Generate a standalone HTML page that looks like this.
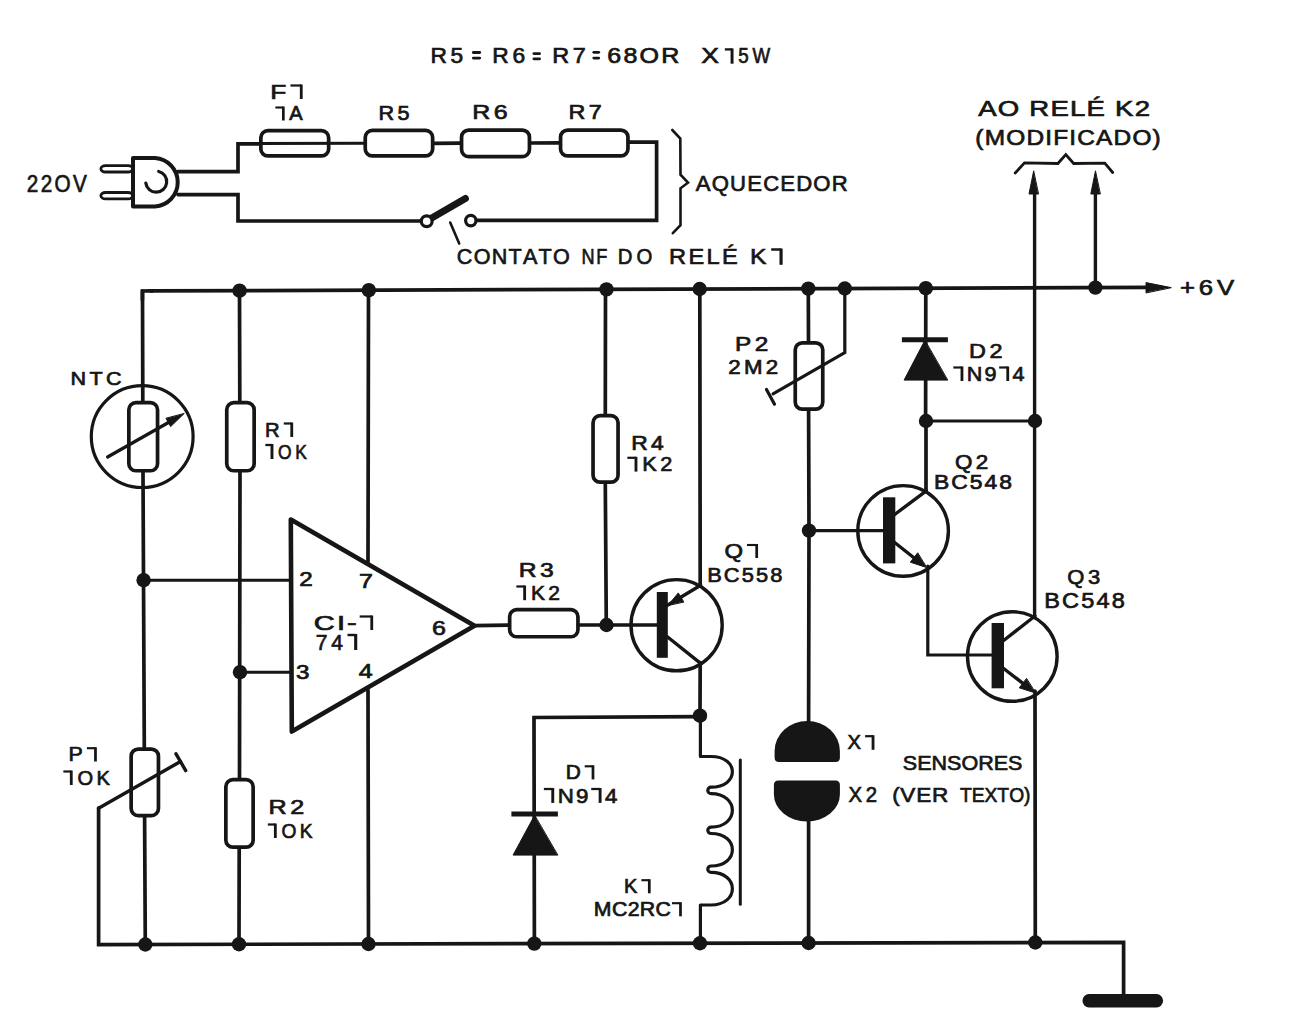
<!DOCTYPE html>
<html><head><meta charset="utf-8"><style>
html,body{margin:0;padding:0;background:#fff;}
body{width:1293px;height:1016px;overflow:hidden;}
svg{display:block;}
</style></head><body>
<svg width="1293" height="1016" viewBox="0 0 1293 1016">
<rect width="1293" height="1016" fill="#fff"/>
<g stroke="#161616" fill="none" stroke-linejoin="round" stroke-linecap="round">
<rect x="100.9" y="165.6" width="31.7" height="6.4" rx="4.5" fill="#fff" stroke-width="2.8"/>
<rect x="100.9" y="192.5" width="31.7" height="6.4" rx="4.5" fill="#fff" stroke-width="2.8"/>
<path d="M133,158 L155,158 A24.3,24.3 0 0 1 155,206.5 L133,206.5 Z" stroke-width="4" fill="#fff" />
<path d="M145.8,183 A10.5,10.5 0 1 0 158.7,171.5" stroke-width="3.2" fill="none" />
<polyline points="178,171.6 238,171.6 238,143.8 259,143.8" stroke-width="3.7" fill="none" stroke-linejoin="miter"/>
<polyline points="178,194.6 238,194.6 238,221 421,221" stroke-width="3.7" fill="none" stroke-linejoin="miter"/>
<rect x="260.85" y="130.65" width="67.8" height="25.3" rx="7" fill="#fff" stroke-width="3.7"/>
<line x1="255" y1="143.6" x2="366" y2="143.3" stroke-width="3" stroke-linecap="round"/>
<rect x="365.25" y="130.45" width="67.4" height="25.5" rx="7" fill="#fff" stroke-width="3.7"/>
<line x1="434" y1="143.3" x2="460" y2="143.1" stroke-width="3.7" stroke-linecap="round"/>
<rect x="461.55" y="130.05" width="67.9" height="26.5" rx="7" fill="#fff" stroke-width="3.7"/>
<line x1="531" y1="143" x2="559" y2="142.8" stroke-width="3.7" stroke-linecap="round"/>
<rect x="560.55" y="130.05" width="67.4" height="25.9" rx="7" fill="#fff" stroke-width="3.7"/>
<polyline points="629.5,142.2 656.6,142.2 656.6,220.4 476.5,220.4" stroke-width="3.7" fill="none" stroke-linejoin="miter"/>
<line x1="431.3" y1="218.3" x2="465.4" y2="198.5" stroke-width="7" stroke-linecap="round"/>
<circle cx="426.7" cy="221.3" r="5.4" stroke-width="3.2" fill="#fff"/>
<circle cx="470.8" cy="220.6" r="5.2" stroke-width="3.2" fill="#fff"/>
<line x1="450.2" y1="222.5" x2="459.2" y2="243.5" stroke-width="2.6" stroke-linecap="round"/>
<polyline points="672.3,130 680.3,138.5 680.5,174.7 688,182.7 680.5,188.3 680.5,225.2 672.8,233.2" stroke-width="2.6" fill="none" stroke-linejoin="miter"/>
<line x1="150" y1="290.97" x2="1150" y2="287.4" stroke-width="3.7" stroke-linecap="butt"/>
<polyline points="142.4,300 142.4,291 152,290.96" stroke-width="3.7" fill="none" stroke-linejoin="miter"/>
<polygon points="1171,287.6 1146,282.6 1146,292.6" fill="#161616" stroke-width="1"/>
<polyline points="98.6,808 98.6,944.6 1123.6,942.3 1123.6,995" stroke-width="3.7" fill="none" stroke-linejoin="miter"/>
<rect x="1082.5" y="994" width="80.5" height="13.5" rx="6.5" fill="#161616" stroke="none"/>
<line x1="142.5" y1="291" x2="142.8" y2="401" stroke-width="3.7" stroke-linecap="round"/>
<circle cx="142.2" cy="436.6" r="50.9" stroke-width="3.2" fill="none"/>
<rect x="128.85" y="402.65" width="28.7" height="68.1" rx="7" fill="#fff" stroke-width="3.7"/>
<line x1="143" y1="472.5" x2="144.3" y2="747" stroke-width="3.7" stroke-linecap="round"/>
<rect x="131.15" y="749.05" width="27.3" height="66.5" rx="7" fill="#fff" stroke-width="3.7"/>
<line x1="144.6" y1="817" x2="145.3" y2="944.49" stroke-width="3.7" stroke-linecap="round"/>
<line x1="107.6" y1="457" x2="172" y2="420.5" stroke-width="3.2" stroke-linecap="round"/>
<polygon points="184,413.7 170.61,426.58 166.07,418.57" fill="#161616" stroke-width="1"/>
<circle cx="143.6" cy="580.2" r="7.2" fill="#161616" stroke="none"/>
<line x1="143.6" y1="580.2" x2="290" y2="580.2" stroke-width="3" stroke-linecap="round"/>
<line x1="98.6" y1="808.2" x2="180.5" y2="761.5" stroke-width="3.4" stroke-linecap="round"/>
<line x1="176" y1="753.8" x2="185.7" y2="770.6" stroke-width="3.4" stroke-linecap="round"/>
<line x1="239.5" y1="290.65" x2="239.8" y2="401" stroke-width="3.7" stroke-linecap="round"/>
<rect x="226.75" y="402.65" width="27.4" height="68.1" rx="7" fill="#fff" stroke-width="3.7"/>
<line x1="240" y1="472.5" x2="239.5" y2="778" stroke-width="3.7" stroke-linecap="round"/>
<rect x="225.85" y="779.65" width="27.3" height="67.5" rx="7" fill="#fff" stroke-width="3.7"/>
<line x1="239.2" y1="849" x2="239" y2="944.28" stroke-width="3.7" stroke-linecap="round"/>
<circle cx="240" cy="672.2" r="7.2" fill="#161616" stroke="none"/>
<line x1="240" y1="672.2" x2="290" y2="672.2" stroke-width="3" stroke-linecap="round"/>
<line x1="368.5" y1="290.19" x2="368" y2="562" stroke-width="3.7" stroke-linecap="round"/>
<line x1="368" y1="690" x2="368.5" y2="943.99" stroke-width="3.7" stroke-linecap="round"/>
<polygon points="290.8,519.5 474.5,625.8 291.8,731.5" fill="none" stroke-width="4.6"/>
<line x1="474" y1="625.6" x2="508" y2="625.2" stroke-width="3.7" stroke-linecap="round"/>
<rect x="509.65" y="609.65" width="68.3" height="27.1" rx="7" fill="#fff" stroke-width="3.7"/>
<line x1="579.5" y1="625" x2="657" y2="625" stroke-width="3.7" stroke-linecap="round"/>
<circle cx="606.5" cy="625" r="7.2" fill="#161616" stroke="none"/>
<line x1="605.5" y1="289.35" x2="605.3" y2="414" stroke-width="3.7" stroke-linecap="round"/>
<rect x="593.05" y="415.65" width="25" height="66.5" rx="7" fill="#fff" stroke-width="3.7"/>
<line x1="605.3" y1="484" x2="606.3" y2="625" stroke-width="3.7" stroke-linecap="round"/>
<circle cx="676.6" cy="625.2" r="45.6" stroke-width="3.4" fill="none"/>
<rect x="656.8" y="592" width="11" height="65.8" fill="#161616" stroke="none"/>
<line x1="667" y1="605.5" x2="700.7" y2="585.2" stroke-width="3.4" stroke-linecap="round"/>
<polygon points="668.2,605.2 678.25,592.91 683.7,601.77" fill="#161616" stroke-width="1"/>
<line x1="700.2" y1="585.5" x2="699.8" y2="289.01" stroke-width="3.7" stroke-linecap="round"/>
<line x1="667" y1="636.5" x2="700.3" y2="663.1" stroke-width="3.4" stroke-linecap="round"/>
<line x1="700.2" y1="662.5" x2="700" y2="716" stroke-width="3.7" stroke-linecap="round"/>
<circle cx="700" cy="715.7" r="7.2" fill="#161616" stroke="none"/>
<polyline points="700,716.6 534,717.5 534.4,943.62" stroke-width="3.7" fill="none" stroke-linejoin="miter"/>
<polygon points="534.5,815.5 513.1,855.1 557.5,855.1" fill="#161616" stroke-width="1"/>
<line x1="511.4" y1="814.1" x2="557.9" y2="814.1" stroke-width="5" stroke-linecap="butt"/>
<path d="M700.4,716 L700.4,756.5 L711,756.5 C739.5,756.5 739.5,787.2 711,787.2 A3.2,3.2 0 0 0 711,793.6 C739.5,793.6 739.5,827.1 711,827.1 A3.2,3.2 0 0 0 711,833.5 C739.5,833.5 739.5,866 711,866 A3.2,3.2 0 0 0 711,872.4 C739.5,872.4 739.5,905 711,905 L700.4,905 L700.4,943.25" stroke-width="3.2" fill="none" />
<line x1="740.3" y1="760" x2="740.3" y2="904.3" stroke-width="3" stroke-linecap="round"/>
<circle cx="534.3" cy="943.62" r="7.2" fill="#161616" stroke="none"/>
<circle cx="700" cy="943.25" r="7.2" fill="#161616" stroke="none"/>
<line x1="808.3" y1="288.62" x2="808.5" y2="341" stroke-width="3.7" stroke-linecap="round"/>
<rect x="795.25" y="342.85" width="27.5" height="66.3" rx="7" fill="#fff" stroke-width="3.7"/>
<line x1="808.6" y1="411" x2="809" y2="530.6" stroke-width="3.7" stroke-linecap="round"/>
<line x1="809" y1="530.6" x2="808.6" y2="722" stroke-width="3.7" stroke-linecap="round"/>
<line x1="808.6" y1="820" x2="808.6" y2="943.01" stroke-width="3.7" stroke-linecap="round"/>
<polyline points="844.8,288.49 844.8,352.6 773,393.8" stroke-width="3.2" fill="none" stroke-linejoin="miter"/>
<line x1="766.5" y1="389.4" x2="774.5" y2="404.2" stroke-width="3.2" stroke-linecap="round"/>
<circle cx="809" cy="530.6" r="7.2" fill="#161616" stroke="none"/>
<line x1="809" y1="530.6" x2="884" y2="530.6" stroke-width="3.2" stroke-linecap="round"/>
<path d="M774.6,757.5 L774.6,751 A32.6,30 0 0 1 839.9,751 L839.9,757.5 Q839.9,762 835.4,762 L779.1,762 Q774.6,762 774.6,757.5 Z" fill="#161616" stroke="none"/>
<path d="M773.9,785 Q773.9,780.5 778.4,780.5 L835.4,780.5 Q839.9,780.5 839.9,785 L839.9,794.5 A33,27 0 0 1 773.9,794.5 Z" fill="#161616" stroke="none"/>
<line x1="925.8" y1="288.2" x2="925.6" y2="421" stroke-width="3.7" stroke-linecap="round"/>
<polygon points="924.8,340.5 904.1,380.1 947.4,380.1" fill="#161616" stroke-width="1"/>
<line x1="901.9" y1="339.8" x2="947.9" y2="339.8" stroke-width="5" stroke-linecap="butt"/>
<circle cx="926" cy="421" r="7.2" fill="#161616" stroke="none"/>
<line x1="926" y1="421" x2="1035" y2="421" stroke-width="3.2" stroke-linecap="round"/>
<circle cx="1035" cy="421" r="7.2" fill="#161616" stroke="none"/>
<circle cx="903.1" cy="530.9" r="45.3" stroke-width="3.4" fill="none"/>
<rect x="883" y="497.3" width="12.3" height="66.1" fill="#161616" stroke="none"/>
<line x1="894" y1="515" x2="926.3" y2="490.8" stroke-width="3.4" stroke-linecap="round"/>
<line x1="926" y1="491" x2="926" y2="421" stroke-width="3.7" stroke-linecap="round"/>
<line x1="894" y1="542" x2="918" y2="561" stroke-width="3.4" stroke-linecap="round"/>
<polygon points="926.5,567.5 910.33,562.19 917.49,553.06" fill="#161616" stroke-width="1"/>
<polyline points="927.8,566 927.8,655 993,655" stroke-width="3.2" fill="none" stroke-linejoin="miter"/>
<circle cx="1012.3" cy="656.5" r="44.8" stroke-width="3.4" fill="none"/>
<rect x="991.6" y="623" width="12.4" height="65.3" fill="#161616" stroke="none"/>
<line x1="1003" y1="641" x2="1035" y2="616" stroke-width="3.4" stroke-linecap="round"/>
<line x1="1003" y1="668" x2="1027" y2="686.5" stroke-width="3.4" stroke-linecap="round"/>
<polygon points="1035.5,693 1019.28,687.84 1026.35,678.65" fill="#161616" stroke-width="1"/>
<line x1="1034.6" y1="190" x2="1034.6" y2="616" stroke-width="3.4" stroke-linecap="round"/>
<line x1="1035" y1="691" x2="1035.3" y2="942.5" stroke-width="3.7" stroke-linecap="round"/>
<polygon points="1033.6,171.2 1029,194 1038.2,194" fill="#161616" stroke-width="1"/>
<line x1="1095.4" y1="190" x2="1095.4" y2="287.6" stroke-width="3.4" stroke-linecap="round"/>
<polygon points="1095.4,171.2 1090.8,194 1100,194" fill="#161616" stroke-width="1"/>
<polyline points="1015.2,173 1024.5,162.9 1057.9,163.5 1065.8,154.6 1073.7,163.5 1104.8,163.1 1112.7,172.5" stroke-width="2.8" fill="none" stroke-linejoin="miter"/>
<circle cx="239.6" cy="290.65" r="7.2" fill="#161616" stroke="none"/>
<circle cx="368.8" cy="290.19" r="7.2" fill="#161616" stroke="none"/>
<circle cx="606.5" cy="289.34" r="7.2" fill="#161616" stroke="none"/>
<circle cx="699.7" cy="289.01" r="7.2" fill="#161616" stroke="none"/>
<circle cx="808.3" cy="288.62" r="7.2" fill="#161616" stroke="none"/>
<circle cx="844.8" cy="288.49" r="7.2" fill="#161616" stroke="none"/>
<circle cx="925.8" cy="288.2" r="7.2" fill="#161616" stroke="none"/>
<circle cx="1095.4" cy="287.6" r="7.2" fill="#161616" stroke="none"/>
<circle cx="145.3" cy="944.49" r="7.2" fill="#161616" stroke="none"/>
<circle cx="239" cy="944.28" r="7.2" fill="#161616" stroke="none"/>
<circle cx="368.5" cy="943.99" r="7.2" fill="#161616" stroke="none"/>
<circle cx="808.6" cy="943.01" r="7.2" fill="#161616" stroke="none"/>
<circle cx="1035.3" cy="942.5" r="7.2" fill="#161616" stroke="none"/>
<line x1="473.3" y1="52.5" x2="479.7" y2="52.5" stroke-width="2.8" stroke-linecap="round"/>
<line x1="473.3" y1="58.1" x2="479.7" y2="58.1" stroke-width="2.8" stroke-linecap="round"/>
<line x1="533.9" y1="53.6" x2="539.6" y2="53.6" stroke-width="2.8" stroke-linecap="round"/>
<line x1="533.9" y1="58.8" x2="539.6" y2="58.8" stroke-width="2.8" stroke-linecap="round"/>
<line x1="593.8" y1="52.3" x2="598.7" y2="52.3" stroke-width="2.8" stroke-linecap="round"/>
<line x1="593.8" y1="58.1" x2="598.7" y2="58.1" stroke-width="2.8" stroke-linecap="round"/>
</g>
<g fill="#161616" stroke="#161616" stroke-width="0.7" font-family="Liberation Sans, sans-serif">
<text transform="scale(1.07162,1)" x="401.71" y="63.35" font-size="21.22">R</text>
<text transform="scale(1.07162,1)" x="420.45" y="63.35" font-size="21.22">5</text>
<text transform="scale(1.07343,1)" x="458.7" y="63.35" font-size="21.22">R</text>
<text transform="scale(1.07343,1)" x="477.42" y="63.35" font-size="21.22">6</text>
<text transform="scale(1.10405,1)" x="500.18" y="63.35" font-size="21.22">R</text>
<text transform="scale(1.10405,1)" x="518.82" y="63.35" font-size="21.22">7</text>
<text transform="scale(1.18090,1)" x="514.25" y="63.35" font-size="21.22">6</text>
<text transform="scale(1.18090,1)" x="527.91" y="63.35" font-size="21.22">8</text>
<text transform="scale(1.18090,1)" x="541.56" y="63.35" font-size="21.22">O</text>
<text transform="scale(1.18090,1)" x="559.92" y="63.35" font-size="21.22">R</text>
<text transform="scale(1.25000,1)" x="561" y="63.35" font-size="21.22">X</text>
<text transform="scale(0.88263,1)" x="836.55" y="63.35" font-size="21.22">5</text>
<text transform="scale(0.88263,1)" x="852.49" y="63.35" font-size="21.22">W</text>
<text transform="scale(0.85837,1)" x="31.23" y="192.45" font-size="24.13">2</text>
<text transform="scale(0.85837,1)" x="47.36" y="192.45" font-size="24.13">2</text>
<text transform="scale(0.85837,1)" x="63.48" y="192.45" font-size="24.13">O</text>
<text transform="scale(0.85837,1)" x="84.96" y="192.45" font-size="24.13">V</text>
<text transform="scale(1.30981,1)" x="206.29" y="98.65" font-size="20.06">F</text>
<text transform="scale(1.04052,1)" x="278.01" y="120.15" font-size="19.33">A</text>
<text transform="scale(1.11922,1)" x="338.25" y="120.15" font-size="19.33">R</text>
<text transform="scale(1.11922,1)" x="355.18" y="120.15" font-size="19.33">5</text>
<text transform="scale(1.21841,1)" x="387.64" y="119.45" font-size="20.49">R</text>
<text transform="scale(1.21841,1)" x="405.33" y="119.45" font-size="20.49">6</text>
<text transform="scale(1.14001,1)" x="498.62" y="119.45" font-size="20.49">R</text>
<text transform="scale(1.14001,1)" x="516.51" y="119.45" font-size="20.49">7</text>
<text transform="scale(1.01965,1)" x="682.4" y="190.95" font-size="21.66">A</text>
<text transform="scale(1.01965,1)" x="698.01" y="190.95" font-size="21.66">Q</text>
<text transform="scale(1.01965,1)" x="716.03" y="190.95" font-size="21.66">U</text>
<text transform="scale(1.01965,1)" x="732.84" y="190.95" font-size="21.66">E</text>
<text transform="scale(1.01965,1)" x="748.45" y="190.95" font-size="21.66">C</text>
<text transform="scale(1.01965,1)" x="765.26" y="190.95" font-size="21.66">E</text>
<text transform="scale(1.01965,1)" x="780.87" y="190.95" font-size="21.66">D</text>
<text transform="scale(1.01965,1)" x="797.68" y="190.95" font-size="21.66">O</text>
<text transform="scale(1.01965,1)" x="815.7" y="190.95" font-size="21.66">R</text>
<text transform="scale(0.95119,1)" x="480.3" y="264.45" font-size="22.67">C</text>
<text transform="scale(0.95119,1)" x="497.99" y="264.45" font-size="22.67">O</text>
<text transform="scale(0.95119,1)" x="516.93" y="264.45" font-size="22.67">N</text>
<text transform="scale(0.95119,1)" x="534.62" y="264.45" font-size="22.67">T</text>
<text transform="scale(0.95119,1)" x="549.78" y="264.45" font-size="22.67">A</text>
<text transform="scale(0.95119,1)" x="566.22" y="264.45" font-size="22.67">T</text>
<text transform="scale(0.95119,1)" x="581.38" y="264.45" font-size="22.67">O</text>
<text transform="scale(0.80000,1)" x="726.83" y="264.45" font-size="22.67">N</text>
<text transform="scale(0.80000,1)" x="745.37" y="264.45" font-size="22.67">F</text>
<text transform="scale(0.89805,1)" x="688.02" y="264.45" font-size="22.67">D</text>
<text transform="scale(0.89805,1)" x="708.74" y="264.45" font-size="22.67">O</text>
<text transform="scale(1.04044,1)" x="643.01" y="264.45" font-size="22.67">R</text>
<text transform="scale(1.04044,1)" x="661.64" y="264.45" font-size="22.67">E</text>
<text transform="scale(1.04044,1)" x="679.01" y="264.45" font-size="22.67">L</text>
<text transform="scale(1.04044,1)" x="693.87" y="264.45" font-size="22.67">É</text>
<text transform="scale(1.08810,1)" x="689.39" y="264.45" font-size="22.67">K</text>
<text transform="scale(1.13311,1)" x="62.29" y="384.65" font-size="19.04">N</text>
<text transform="scale(1.13311,1)" x="78.93" y="384.65" font-size="19.04">T</text>
<text transform="scale(1.13311,1)" x="93.45" y="384.65" font-size="19.04">C</text>
<text transform="scale(1.00958,1)" x="262.57" y="436.65" font-size="20.06">R</text>
<text transform="scale(0.83807,1)" x="331.84" y="458.65" font-size="20.79">O</text>
<text transform="scale(0.83807,1)" x="352.27" y="458.65" font-size="20.79">K</text>
<text transform="scale(1.27131,1)" x="211.27" y="814.15" font-size="19.77">R</text>
<text transform="scale(1.27131,1)" x="228.22" y="814.15" font-size="19.77">2</text>
<text transform="scale(0.95617,1)" x="294.3" y="837.65" font-size="20.06">O</text>
<text transform="scale(0.95617,1)" x="313.51" y="837.65" font-size="20.06">K</text>
<text transform="scale(1.08389,1)" x="63.28" y="761.15" font-size="19.77">P</text>
<text transform="scale(1.00194,1)" x="77.24" y="784.65" font-size="20.06">O</text>
<text transform="scale(1.00194,1)" x="96.28" y="784.65" font-size="20.06">K</text>
<text transform="scale(1.25000,1)" x="239.31" y="585.65" font-size="19.33">2</text>
<text transform="scale(1.25000,1)" x="287.25" y="587.65" font-size="20.06">7</text>
<text transform="scale(1.44868,1)" x="216.66" y="629.65" font-size="20.06">C</text>
<text transform="scale(1.44868,1)" x="232.58" y="629.65" font-size="20.06">I</text>
<text transform="scale(1.44868,1)" x="239.58" y="629.65" font-size="20.06">-</text>
<text transform="scale(0.94753,1)" x="333.26" y="649.65" font-size="22.24">7</text>
<text transform="scale(0.94753,1)" x="349.66" y="649.65" font-size="22.24">4</text>
<text transform="scale(1.25000,1)" x="345.66" y="634.65" font-size="20.06">6</text>
<text transform="scale(1.25000,1)" x="236.74" y="678.65" font-size="19.33">3</text>
<text transform="scale(1.25000,1)" x="287.02" y="677.65" font-size="20.06">4</text>
<text transform="scale(1.25709,1)" x="412.72" y="576.85" font-size="19.62">R</text>
<text transform="scale(1.25709,1)" x="429.58" y="576.85" font-size="19.62">3</text>
<text transform="scale(1.02927,1)" x="515.79" y="599.85" font-size="20.35">K</text>
<text transform="scale(1.02927,1)" x="532.76" y="599.85" font-size="20.35">2</text>
<text transform="scale(1.18240,1)" x="533.89" y="449.65" font-size="19.33">R</text>
<text transform="scale(1.18240,1)" x="550.67" y="449.65" font-size="19.33">4</text>
<text transform="scale(1.05785,1)" x="607.17" y="471.25" font-size="20.49">K</text>
<text transform="scale(1.05785,1)" x="624.17" y="471.25" font-size="20.49">2</text>
<text transform="scale(1.23336,1)" x="587.36" y="557.65" font-size="19.33">Q</text>
<text transform="scale(1.06735,1)" x="662.53" y="581.95" font-size="20.49">B</text>
<text transform="scale(1.06735,1)" x="678.19" y="581.95" font-size="20.49">C</text>
<text transform="scale(1.06735,1)" x="694.97" y="581.95" font-size="20.49">5</text>
<text transform="scale(1.06735,1)" x="708.35" y="581.95" font-size="20.49">5</text>
<text transform="scale(1.06735,1)" x="721.73" y="581.95" font-size="20.49">8</text>
<text transform="scale(1.07143,1)" x="527.93" y="779.05" font-size="19.48">D</text>
<text transform="scale(1.08167,1)" x="515.63" y="802.55" font-size="20.64">N</text>
<text transform="scale(1.08167,1)" x="532.51" y="802.55" font-size="20.64">9</text>
<text transform="scale(1.08167,1)" x="559.4" y="802.55" font-size="20.64">4</text>
<text transform="scale(1.02625,1)" x="608.15" y="892.95" font-size="19.48">K</text>
<text transform="scale(1.09097,1)" x="544.29" y="915.95" font-size="19.48">M</text>
<text transform="scale(1.09097,1)" x="560.89" y="915.95" font-size="19.48">C</text>
<text transform="scale(1.09097,1)" x="575.32" y="915.95" font-size="19.48">2</text>
<text transform="scale(1.09097,1)" x="586.52" y="915.95" font-size="19.48">R</text>
<text transform="scale(1.09097,1)" x="600.95" y="915.95" font-size="19.48">C</text>
<text transform="scale(1.24965,1)" x="588.21" y="351.35" font-size="19.48">P</text>
<text transform="scale(1.24965,1)" x="603.88" y="351.35" font-size="19.48">2</text>
<text transform="scale(1.15390,1)" x="631.1" y="374.25" font-size="19.33">2</text>
<text transform="scale(1.15390,1)" x="644.73" y="374.25" font-size="19.33">M</text>
<text transform="scale(1.15390,1)" x="663.72" y="374.25" font-size="19.33">2</text>
<text transform="scale(1.13515,1)" x="853.74" y="358.15" font-size="20.64">D</text>
<text transform="scale(1.13515,1)" x="871.78" y="358.15" font-size="20.64">2</text>
<text transform="scale(1.07573,1)" x="898.73" y="380.65" font-size="20.06">N</text>
<text transform="scale(1.07573,1)" x="915.14" y="380.65" font-size="20.06">9</text>
<text transform="scale(1.07573,1)" x="941.3" y="380.65" font-size="20.06">4</text>
<text transform="scale(1.15793,1)" x="824.83" y="469.15" font-size="19.33">Q</text>
<text transform="scale(1.15793,1)" x="842.73" y="469.15" font-size="19.33">2</text>
<text transform="scale(1.17424,1)" x="795.39" y="489.45" font-size="19.48">B</text>
<text transform="scale(1.17424,1)" x="810.09" y="489.45" font-size="19.48">C</text>
<text transform="scale(1.17424,1)" x="825.87" y="489.45" font-size="19.48">5</text>
<text transform="scale(1.17424,1)" x="838.41" y="489.45" font-size="19.48">4</text>
<text transform="scale(1.17424,1)" x="850.95" y="489.45" font-size="19.48">8</text>
<text transform="scale(1.05791,1)" x="1008.88" y="584.15" font-size="20.79">Q</text>
<text transform="scale(1.05791,1)" x="1028.43" y="584.15" font-size="20.79">3</text>
<text transform="scale(1.10794,1)" x="942.49" y="608.15" font-size="21.22">B</text>
<text transform="scale(1.10794,1)" x="958.62" y="608.15" font-size="21.22">C</text>
<text transform="scale(1.10794,1)" x="975.92" y="608.15" font-size="21.22">5</text>
<text transform="scale(1.10794,1)" x="989.7" y="608.15" font-size="21.22">4</text>
<text transform="scale(1.10794,1)" x="1003.48" y="608.15" font-size="21.22">8</text>
<text transform="scale(1.22207,1)" x="800.44" y="115.85" font-size="22.53">A</text>
<text transform="scale(1.22207,1)" x="816.48" y="115.85" font-size="22.53">O</text>
<text transform="scale(1.22207,1)" x="842.3" y="115.85" font-size="22.53">R</text>
<text transform="scale(1.22207,1)" x="859.58" y="115.85" font-size="22.53">E</text>
<text transform="scale(1.22207,1)" x="875.62" y="115.85" font-size="22.53">L</text>
<text transform="scale(1.22207,1)" x="889.17" y="115.85" font-size="22.53">É</text>
<text transform="scale(1.22207,1)" x="912.48" y="115.85" font-size="22.53">K</text>
<text transform="scale(1.22207,1)" x="928.52" y="115.85" font-size="22.53">2</text>
<text transform="scale(1.13605,1)" x="858.53" y="145.15" font-size="21.51">(</text>
<text transform="scale(1.13605,1)" x="866.74" y="145.15" font-size="21.51">M</text>
<text transform="scale(1.13605,1)" x="885.7" y="145.15" font-size="21.51">O</text>
<text transform="scale(1.13605,1)" x="903.47" y="145.15" font-size="21.51">D</text>
<text transform="scale(1.13605,1)" x="920.05" y="145.15" font-size="21.51">I</text>
<text transform="scale(1.13605,1)" x="927.07" y="145.15" font-size="21.51">F</text>
<text transform="scale(1.13605,1)" x="941.25" y="145.15" font-size="21.51">I</text>
<text transform="scale(1.13605,1)" x="948.27" y="145.15" font-size="21.51">C</text>
<text transform="scale(1.13605,1)" x="964.85" y="145.15" font-size="21.51">A</text>
<text transform="scale(1.13605,1)" x="980.24" y="145.15" font-size="21.51">D</text>
<text transform="scale(1.13605,1)" x="996.82" y="145.15" font-size="21.51">O</text>
<text transform="scale(1.13605,1)" x="1014.59" y="145.15" font-size="21.51">)</text>
<text transform="scale(1.15131,1)" x="1024.83" y="295.25" font-size="22.38">+</text>
<text transform="scale(1.15131,1)" x="1041.24" y="295.25" font-size="22.38">6</text>
<text transform="scale(1.15131,1)" x="1057.03" y="295.25" font-size="22.38">V</text>
<text transform="scale(0.99735,1)" x="849.85" y="749.45" font-size="20.2">X</text>
<text transform="scale(1.03513,1)" x="872.23" y="769.95" font-size="20.79">S</text>
<text transform="scale(1.03513,1)" x="886.1" y="769.95" font-size="20.79">E</text>
<text transform="scale(1.03513,1)" x="899.96" y="769.95" font-size="20.79">N</text>
<text transform="scale(1.03513,1)" x="914.97" y="769.95" font-size="20.79">S</text>
<text transform="scale(1.03513,1)" x="928.83" y="769.95" font-size="20.79">O</text>
<text transform="scale(1.03513,1)" x="945" y="769.95" font-size="20.79">R</text>
<text transform="scale(1.03513,1)" x="960.01" y="769.95" font-size="20.79">E</text>
<text transform="scale(1.03513,1)" x="973.87" y="769.95" font-size="20.79">S</text>
<text transform="scale(0.92068,1)" x="921.59" y="802.05" font-size="22.09">X</text>
<text transform="scale(0.92068,1)" x="940.46" y="802.05" font-size="22.09">2</text>
<text transform="scale(1.07717,1)" x="828.24" y="802.05" font-size="20.94">(</text>
<text transform="scale(1.07717,1)" x="835.88" y="802.05" font-size="20.94">V</text>
<text transform="scale(1.07717,1)" x="850.51" y="802.05" font-size="20.94">E</text>
<text transform="scale(1.07717,1)" x="865.15" y="802.05" font-size="20.94">R</text>
<text transform="scale(0.92000,1)" x="1043.39" y="802.05" font-size="20.94">T</text>
<text transform="scale(0.92000,1)" x="1056.18" y="802.05" font-size="20.94">E</text>
<text transform="scale(0.92000,1)" x="1070.14" y="802.05" font-size="20.94">X</text>
<text transform="scale(0.92000,1)" x="1084.11" y="802.05" font-size="20.94">T</text>
<text transform="scale(0.92000,1)" x="1096.9" y="802.05" font-size="20.94">O</text>
<text transform="scale(0.92000,1)" x="1113.18" y="802.05" font-size="20.94">)</text>
</g>
<g stroke="#161616" fill="none" stroke-linecap="butt">
<line x1="724.85" y1="49.4" x2="732.05" y2="49.4" stroke-width="2.33"/>
<line x1="732.05" y1="48.4" x2="732.05" y2="63.7" stroke-width="2.97"/>
<line x1="290.46" y1="85.5" x2="301.25" y2="85.5" stroke-width="2.21"/>
<line x1="301.25" y1="84.5" x2="301.25" y2="99" stroke-width="2.81"/>
<line x1="275.35" y1="107.5" x2="283.33" y2="107.5" stroke-width="2.13"/>
<line x1="283.33" y1="106.5" x2="283.33" y2="120.5" stroke-width="2.71"/>
<line x1="771.21" y1="249.5" x2="781.06" y2="249.5" stroke-width="2.49"/>
<line x1="781.06" y1="248.5" x2="781.06" y2="264.8" stroke-width="3.17"/>
<line x1="283.76" y1="423.5" x2="291.75" y2="423.5" stroke-width="2.21"/>
<line x1="291.75" y1="422.5" x2="291.75" y2="437" stroke-width="2.81"/>
<line x1="265.35" y1="445" x2="271.98" y2="445" stroke-width="2.29"/>
<line x1="271.98" y1="444" x2="271.98" y2="459" stroke-width="2.91"/>
<line x1="267.85" y1="824.5" x2="275.34" y2="824.5" stroke-width="2.21"/>
<line x1="275.34" y1="823.5" x2="275.34" y2="838" stroke-width="2.81"/>
<line x1="86.91" y1="748.2" x2="95.47" y2="748.2" stroke-width="2.17"/>
<line x1="95.47" y1="747.2" x2="95.47" y2="761.5" stroke-width="2.77"/>
<line x1="63.35" y1="771.5" x2="71.27" y2="771.5" stroke-width="2.21"/>
<line x1="71.27" y1="770.5" x2="71.27" y2="785" stroke-width="2.81"/>
<line x1="359.67" y1="616.5" x2="371.75" y2="616.5" stroke-width="2.21"/>
<line x1="371.75" y1="615.5" x2="371.75" y2="630" stroke-width="2.81"/>
<line x1="347.48" y1="635" x2="355.69" y2="635" stroke-width="2.45"/>
<line x1="355.69" y1="634" x2="355.69" y2="650" stroke-width="3.11"/>
<line x1="516.35" y1="586.5" x2="524.64" y2="586.5" stroke-width="2.24"/>
<line x1="524.64" y1="585.5" x2="524.64" y2="600.2" stroke-width="2.85"/>
<line x1="627.35" y1="457.8" x2="635.97" y2="457.8" stroke-width="2.25"/>
<line x1="635.97" y1="456.8" x2="635.97" y2="471.6" stroke-width="2.87"/>
<line x1="746.99" y1="545" x2="756.7" y2="545" stroke-width="2.13"/>
<line x1="756.7" y1="544" x2="756.7" y2="558" stroke-width="2.71"/>
<line x1="584.67" y1="766.3" x2="592.99" y2="766.3" stroke-width="2.14"/>
<line x1="592.99" y1="765.3" x2="592.99" y2="779.4" stroke-width="2.73"/>
<line x1="543.85" y1="789" x2="552.76" y2="789" stroke-width="2.27"/>
<line x1="552.76" y1="788" x2="552.76" y2="802.9" stroke-width="2.89"/>
<line x1="591.2" y1="789" x2="600.11" y2="789" stroke-width="2.27"/>
<line x1="600.11" y1="788" x2="600.11" y2="802.9" stroke-width="2.89"/>
<line x1="641.38" y1="880.2" x2="649.29" y2="880.2" stroke-width="2.14"/>
<line x1="649.29" y1="879.2" x2="649.29" y2="893.3" stroke-width="2.73"/>
<line x1="671.99" y1="903.2" x2="680.49" y2="903.2" stroke-width="2.14"/>
<line x1="680.49" y1="902.2" x2="680.49" y2="916.3" stroke-width="2.73"/>
<line x1="953.35" y1="367.5" x2="961.96" y2="367.5" stroke-width="2.21"/>
<line x1="961.96" y1="366.5" x2="961.96" y2="381" stroke-width="2.81"/>
<line x1="999.14" y1="367.5" x2="1007.75" y2="367.5" stroke-width="2.21"/>
<line x1="1007.75" y1="366.5" x2="1007.75" y2="381" stroke-width="2.81"/>
<line x1="865.1" y1="736.2" x2="873.04" y2="736.2" stroke-width="2.22"/>
<line x1="873.04" y1="735.2" x2="873.04" y2="749.8" stroke-width="2.83"/>
</g>
</svg>
</body></html>
